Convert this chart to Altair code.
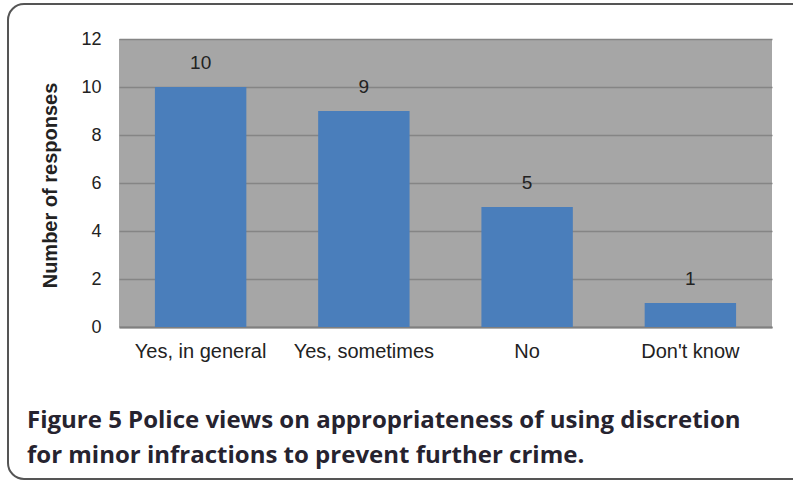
import altair as alt
import pandas as pd

# Survey answers and counts
answers = ["Yes, in general", "Yes, sometimes", "No", "Don't know"]
responses = [10, 9, 5, 1]

caption_lines = [
    "Figure 5 Police views on appropriateness of using discretion",
    "for minor infractions to prevent further crime.",
]

df = pd.DataFrame({"answer": answers, "responses": responses})

base = alt.Chart(df)

x_enc = alt.X(
    "answer:N",
    sort=answers,
    scale=alt.Scale(paddingInner=0.44, paddingOuter=0.22),
    axis=alt.Axis(
        title=None,
        labelAngle=0,
        labelFont="Liberation Sans",
        labelFontSize=20,
        labelColor="#222222",
        labelPadding=14,
        ticks=False,
        domainColor="#7f7f7f",
        domainWidth=2,
    ),
)

y_enc = alt.Y(
    "responses:Q",
    scale=alt.Scale(domain=[0, 12]),
    axis=alt.Axis(
        title="Number of responses",
        values=[0, 2, 4, 6, 8, 10, 12],
        labelFont="Liberation Sans",
        labelFontSize=18,
        labelColor="#222222",
        labelPadding=18,
        ticks=False,
        domain=False,
        grid=True,
        gridColor="#858585",
        gridWidth=1.5,
        titleFont="Liberation Sans",
        titleFontSize=20,
        titleFontWeight="bold",
        titleColor="#222222",
        titleAngle=-90,
        titleX=-69,
        titleY=146,
        titleAlign="center",
        titleBaseline="middle",
    ),
)

bars = base.mark_bar(color="#4a7ebb").encode(x=x_enc, y=y_enc)

labels = base.mark_text(
    font="Liberation Sans",
    fontSize=19,
    color="#222222",
    baseline="middle",
    dy=-24,
).encode(x=alt.X("answer:N", sort=answers), y="responses:Q", text="responses:Q")

# Rounded frame around the whole figure
frame = alt.Chart(pd.DataFrame({"k": [0]})).mark_rect(
    filled=False,
    stroke="#555555",
    strokeWidth=2,
    cornerRadius=16,
).encode(
    x=alt.value(-111),
    x2=alt.value(700),
    y=alt.value(-35),
    y2=alt.value(440),
)

chart = (
    alt.layer(bars, labels, frame)
    .properties(
        width=653,
        height=288,
        autosize=alt.AutoSizeParams(type="none"),
        padding={"left": 119, "top": 39, "right": 21, "bottom": 155},
        background="white",
        title=alt.TitleParams(
            text=caption_lines,
            orient="bottom",
            anchor="start",
            frame="group",
            dx=-92,
            offset=-71,
            font="Open Sans",
            fontSize=24,
            fontWeight="bold",
            color="#26232f",
            lineHeight=35,
        ),
    )
    .configure_view(fill="#a6a6a6", stroke=None)
)

chart.save("out.html", embed_options={"renderer": "svg", "actions": False})
